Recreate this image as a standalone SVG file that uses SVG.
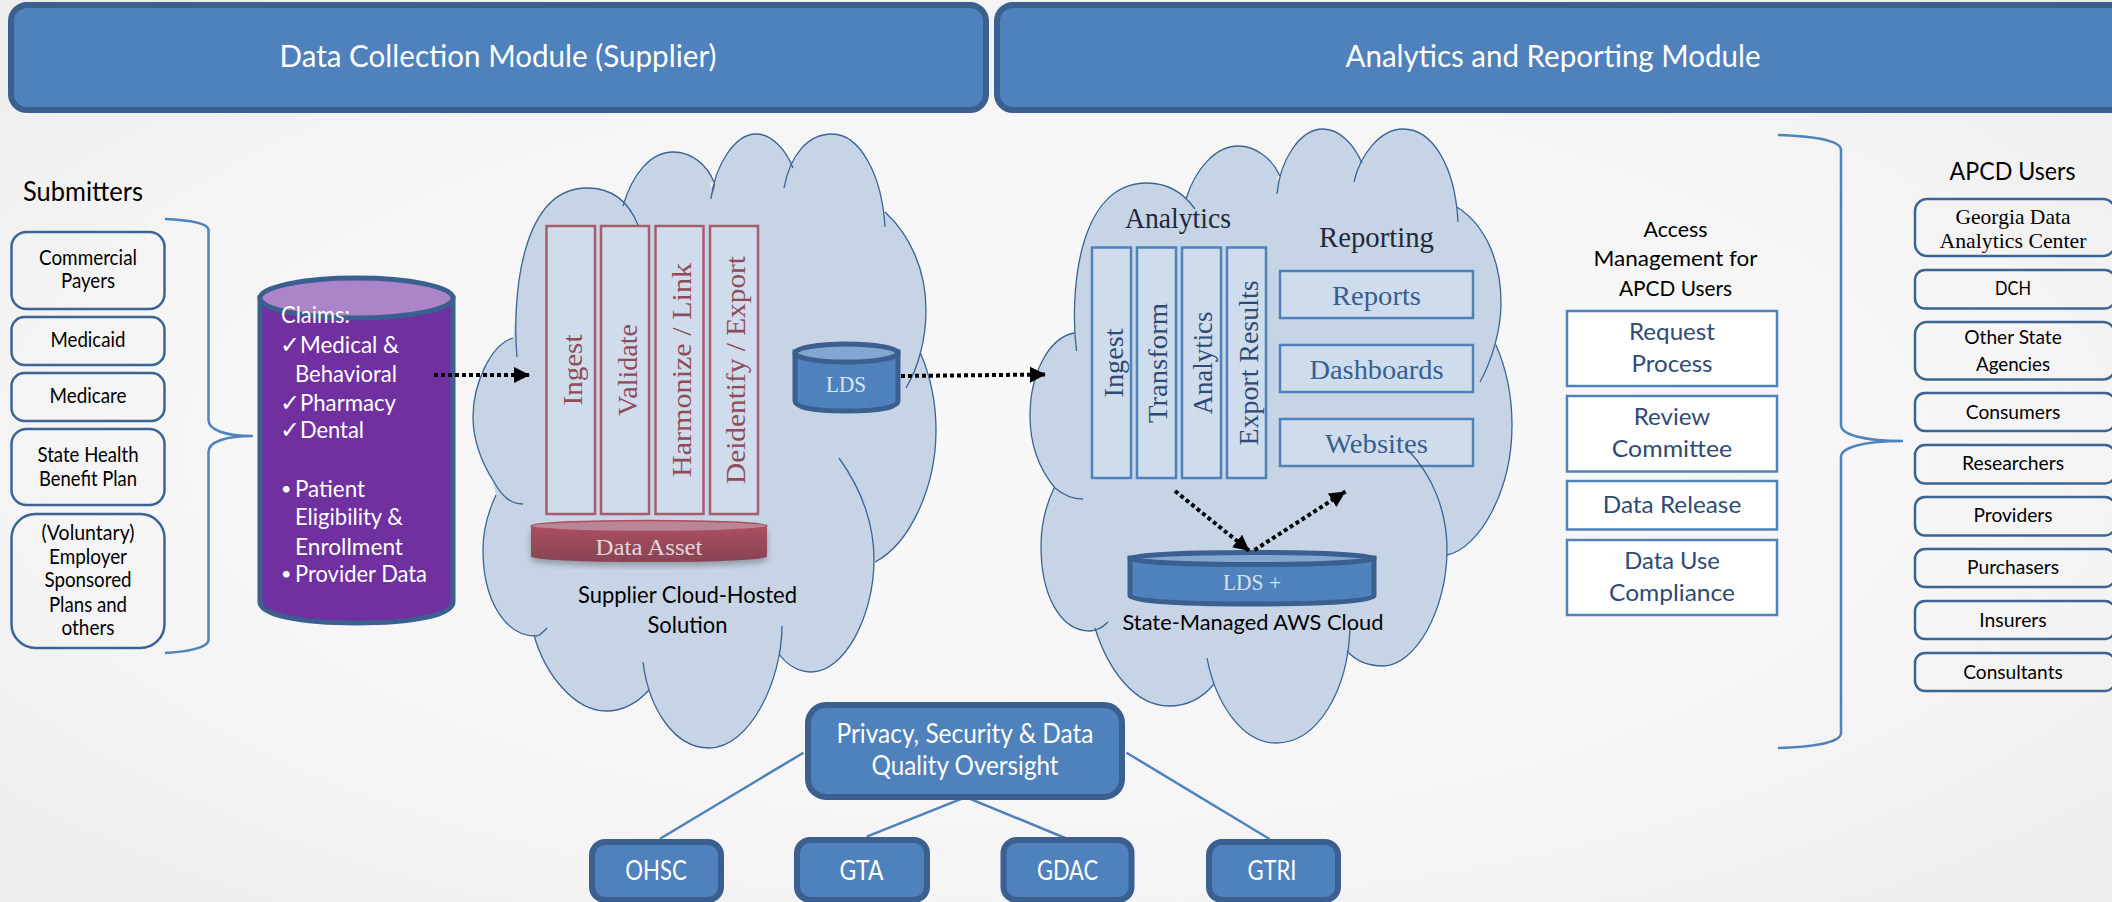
<svg xmlns="http://www.w3.org/2000/svg" width="2112" height="902" viewBox="0 0 2112 902">
<defs>
<radialGradient id="bg" cx="50%" cy="50%" r="75%"><stop offset="0" stop-color="#f8f8f8"/><stop offset="0.6" stop-color="#f5f5f5"/><stop offset="1" stop-color="#ebebeb"/></radialGradient>
<linearGradient id="red" x1="0" y1="0" x2="0" y2="1"><stop offset="0" stop-color="#ab4f60"/><stop offset="1" stop-color="#884356"/></linearGradient>
<filter id="sh" x="-5%" y="-10%" width="110%" height="130%"><feDropShadow dx="0" dy="4" stdDeviation="3" flood-color="#555" flood-opacity="0.45"/></filter>
<marker id="ah" markerUnits="userSpaceOnUse" markerWidth="18" markerHeight="18" refX="16" refY="8" orient="auto"><path d="M0 0L16 8L0 16Z" fill="#000"/></marker>
</defs>
<style>
text{font-family:Lato,"Open Sans","Liberation Sans",sans-serif;fill:#000}
.m{text-anchor:middle}
.serif{font-family:"Liberation Serif",serif}
.hdr{fill:#4f81bd;stroke:#3b5f8f;stroke-width:6}
.w{fill:#fff}
.sub{fill:none;stroke:#3a6496;stroke-width:2.5}
.t21{font-size:21px}
.t19{font-size:19.500px}
.brace{fill:none;stroke:#4f81bd;stroke-width:2.5}
.cf{fill:#c6d4e5;stroke:none}
.cs{fill:none;stroke:#3a6496;stroke-width:1.300}
.col1{fill:#cfdcec;stroke:#a85c6b;stroke-width:2.5}
.col2{fill:#cfdcec;stroke:#4f81bd;stroke-width:2.5}
.t1{fill:#8f4b58;font-size:27px}
.t2{fill:#2f4a75;font-size:27px}
.acc{fill:#fff;stroke:#4f81bd;stroke-width:2.5}
.tacc{fill:#2f4a75;font-size:24px}
.pw{fill:#fff;font-size:24px}
.ck{fill:#fff;font-size:24px}
.bu{fill:#fff;font-size:18px}
.dot{fill:none;stroke:#000;stroke-width:4;stroke-dasharray:4 3;marker-end:url(#ah)}
.ln{fill:none;stroke:#4f81bd;stroke-width:2.5}
</style>
<rect width="2112" height="902" fill="url(#bg)"/>

<g id="header-collection"><rect class="hdr" x="11" y="5" width="975" height="105" rx="16"/><text class="m w" x="498" y="67" font-size="31" textLength="437" lengthAdjust="spacingAndGlyphs">Data Collection Module (Supplier)</text></g>
<g id="header-analytics"><rect class="hdr" x="997" y="5" width="1130" height="105" rx="16"/><text class="m w" x="1553" y="67" font-size="31" textLength="415" lengthAdjust="spacingAndGlyphs">Analytics and Reporting Module</text></g>

<text x="23" y="201" font-size="26" textLength="120" lengthAdjust="spacingAndGlyphs">Submitters</text>
<g id="sub-commercial"><rect class="sub" x="11.500" y="232" width="153" height="77" rx="15"/><text class="m t21" x="88" y="265" textLength="98" lengthAdjust="spacingAndGlyphs">Commercial</text><text class="m t21" x="88" y="288" textLength="54" lengthAdjust="spacingAndGlyphs">Payers</text></g>
<g id="sub-medicaid"><rect class="sub" x="11.500" y="317" width="153" height="48" rx="13"/><text class="m t21" x="88" y="347" textLength="75" lengthAdjust="spacingAndGlyphs">Medicaid</text></g>
<g id="sub-medicare"><rect class="sub" x="11.500" y="373" width="153" height="48" rx="13"/><text class="m t21" x="88" y="403" textLength="77" lengthAdjust="spacingAndGlyphs">Medicare</text></g>
<g id="sub-state"><rect class="sub" x="11.500" y="429" width="153" height="76" rx="15"/><text class="m t21" x="88" y="462" textLength="101" lengthAdjust="spacingAndGlyphs">State Health</text><text class="m t21" x="88" y="486" textLength="98" lengthAdjust="spacingAndGlyphs">Benefit Plan</text></g>
<g id="sub-voluntary"><rect class="sub" x="11.500" y="514" width="153" height="134" rx="24"/><text class="m t21" x="88" y="540" textLength="93" lengthAdjust="spacingAndGlyphs">(Voluntary)</text><text class="m t21" x="88" y="564" textLength="78" lengthAdjust="spacingAndGlyphs">Employer</text><text class="m t21" x="88" y="587" textLength="87" lengthAdjust="spacingAndGlyphs">Sponsored</text><text class="m t21" x="88" y="612" textLength="78" lengthAdjust="spacingAndGlyphs">Plans and</text><text class="m t21" x="88" y="635" textLength="53" lengthAdjust="spacingAndGlyphs">others</text></g>
<path class="brace" id="brace-left" d="M165 219C185 220 208 222 208.500 230V420C208.500 430 225 436 253 436C225 436 208.500 442 208.500 452V640C208.500 648 185 652 165 653"/>

<g id="claims">
<path d="M260 298V602C260 615 300 623 356.500 623C413 623 453 615 453 602V298Z" fill="#7030a0" stroke="#3b5f8f" stroke-width="5"/>
<ellipse cx="356.500" cy="298" rx="96.500" ry="20" fill="#ab85c7" stroke="#3b5f8f" stroke-width="5"/>
<text class="pw" x="281" y="323" textLength="69" lengthAdjust="spacingAndGlyphs">Claims:</text>
<text class="ck" x="280" y="353">✓</text><text class="pw" x="300" y="353" textLength="99" lengthAdjust="spacingAndGlyphs">Medical &amp;</text>
<text class="pw" x="295" y="382" textLength="102" lengthAdjust="spacingAndGlyphs">Behavioral</text>
<text class="ck" x="280" y="411">✓</text><text class="pw" x="300" y="411" textLength="96" lengthAdjust="spacingAndGlyphs">Pharmacy</text>
<text class="ck" x="280" y="438">✓</text><text class="pw" x="300" y="438" textLength="64" lengthAdjust="spacingAndGlyphs">Dental</text>
<text class="bu" x="281" y="495">•</text><text class="pw" x="295" y="497" textLength="70" lengthAdjust="spacingAndGlyphs">Patient</text>
<text class="pw" x="295" y="525" textLength="108" lengthAdjust="spacingAndGlyphs">Eligibility &amp;</text>
<text class="pw" x="295" y="555" textLength="108" lengthAdjust="spacingAndGlyphs">Enrollment</text>
<text class="bu" x="281" y="580">•</text><text class="pw" x="295" y="582" textLength="132" lengthAdjust="spacingAndGlyphs">Provider Data</text>
</g>

<g id="cloud-supplier">
<path class="cf" d="M517 357C512 300 520 188 587 188C610 188 628 200 638 225ZM623 206C632 175 650 152 673 152C692 152 707 165 714 182ZM711 199C715 165 735 134 756 134C772 134 786 150 793 168ZM784 188C790 155 808 134 832 134C860 134 882 175 885 227ZM885 212C910 235 926 270 926 310C926 340 918 368 906 388ZM920 352C930 375 936 400 936 430C936 490 908 545 875 562ZM839 458C862 490 874 525 874 560C874 615 845 672 811 672C798 672 786 664 779 654ZM782 626C782 680 750 748 709 748C675 748 649 710 643 662ZM649 690C640 700 625 711 606 711C575 711 545 675 534 635ZM547 628C542 633 540 636 536 636C505 636 483 600 483 550C483 530 488 512 496 495ZM523 504C510 504 502 496 494 482C480 460 473 440 473 417C473 385 490 345 513 338Z"/>
<polygon class="cf" points="513,340 517,300 587,191 623,208 673,155 708,178 713,192 725,165 756,137 785,165 791,180 800,160 832,137 885,215 922,310 920,352 932,430 875,560 872,560 811,668 779,654 709,744 649,690 606,707 534,635 537,632 487,550 496,495 477,417"/>
<path class="cs" d="M517 357C512 300 520 188 587 188C610 188 628 200 638 225M623 206C632 175 650 152 673 152C692 152 707 165 714 182C716 188 711 190 711 199C715 165 735 134 756 134C772 134 786 150 793 168M784 188C790 155 808 134 832 134C860 134 882 175 885 227M885 212C910 235 926 270 926 310C926 340 918 368 906 388M920 352C930 375 936 400 936 430C936 490 908 545 875 562M839 458C862 490 874 525 874 560C874 615 845 672 811 672C798 672 786 664 779 654M782 626C782 680 750 748 709 748C675 748 649 710 643 662M649 690C640 700 625 711 606 711C575 711 545 675 534 635M547 628C542 633 540 636 536 636C505 636 483 600 483 550C483 530 488 512 496 495M523 504C510 504 502 496 494 482C480 460 473 440 473 417C473 385 490 345 513 338"/>
<text class="m" x="687.500" y="603" font-size="24" textLength="219" lengthAdjust="spacingAndGlyphs">Supplier Cloud-Hosted</text>
<text class="m" x="687.500" y="633" font-size="24" textLength="80" lengthAdjust="spacingAndGlyphs">Solution</text>
</g>
<g id="col-ingest"><rect class="col1" x="546.500" y="226" width="48.500" height="288"/><text class="m serif t1" transform="translate(581.500 370) rotate(-90)" textLength="71" lengthAdjust="spacingAndGlyphs">Ingest</text></g>
<g id="col-validate"><rect class="col1" x="601" y="226" width="48" height="288"/><text class="m serif t1" transform="translate(636.500 370) rotate(-90)" textLength="92" lengthAdjust="spacingAndGlyphs">Validate</text></g>
<g id="col-harmonize"><rect class="col1" x="655.500" y="226" width="48" height="288"/><text class="m serif t1" transform="translate(690.500 370) rotate(-90)" textLength="214" lengthAdjust="spacingAndGlyphs">Harmonize / Link</text></g>
<g id="col-deidentify"><rect class="col1" x="710" y="226" width="48" height="288"/><text class="m serif t1" transform="translate(745 370) rotate(-90)" textLength="228" lengthAdjust="spacingAndGlyphs">Deidentify / Export</text></g>
<g id="data-asset">
<path d="M531 526V556C531 560 580 562 649 562C718 562 767 560 767 556V526Z" fill="url(#red)" filter="url(#sh)"/>
<ellipse cx="649" cy="526" rx="118" ry="5.500" fill="#b88694" stroke="#ab4f60" stroke-width="1.500"/>
<text class="m serif" x="649" y="555" font-size="24" style="fill:#e5d5d8" textLength="107" lengthAdjust="spacingAndGlyphs">Data Asset</text>
</g>
<g id="lds">
<path d="M795 352V401C795 408 818 411 846.500 411C875 411 898 408 898 401V352Z" fill="#4f81bd" stroke="#3b5f8f" stroke-width="5"/>
<ellipse cx="846.500" cy="353" rx="51.500" ry="9" fill="#84a7d1" stroke="#3b5f8f" stroke-width="5"/>
<text class="m serif" x="846" y="392" font-size="23" style="fill:#dce6f2" textLength="40" lengthAdjust="spacingAndGlyphs">LDS</text>
</g>

<g id="cloud-state-fill">
<path class="cf" d="M1076.500 351C1070 300 1075 183 1147 183C1170 183 1185 195 1195 209ZM1186 199C1195 170 1215 146 1238 146C1255 146 1272 158 1280 176ZM1277 194C1280 160 1300 129 1323 129C1340 129 1354 145 1362 163ZM1354 182C1360 155 1380 129 1403 129C1432 129 1455 165 1458 222ZM1457 207C1485 225 1501 260 1501 303C1501 330 1492 360 1480 382ZM1496 345C1506 368 1512 395 1512 425C1512 490 1480 548 1447 555ZM1408 450C1432 475 1447 510 1447 550C1447 610 1415 666 1383 666C1368 666 1355 660 1347 651ZM1350 628C1348 690 1318 743 1276 743C1243 743 1216 705 1207 658ZM1214 684C1205 695 1190 706 1169 706C1135 706 1108 670 1095 628ZM1108 622C1103 627 1097 631 1090 631C1060 631 1041 595 1041 546C1041 525 1046 505 1054 488ZM1083 499C1070 499 1062 494 1055 488C1040 470 1030 445 1030 416C1030 375 1048 338 1074 333Z"/>
<polygon class="cf" points="1074,335 1078,300 1147,186 1187,201 1238,149 1272,165 1279,182 1290,160 1323,132 1350,150 1360,168 1372,150 1403,132 1455,207 1498,303 1496,345 1509,425 1447,553 1444,555 1383,663 1347,651 1276,740 1214,684 1169,703 1095,628 1090,628 1044,546 1054,488 1033,416"/>
</g>
<g id="cloud-state-labels">
<text class="serif" x="1125" y="228" font-size="29" style="fill:#1f2a3a" textLength="106" lengthAdjust="spacingAndGlyphs">Analytics</text>
<text class="serif" x="1319" y="247" font-size="29" style="fill:#1f2a3a" textLength="115" lengthAdjust="spacingAndGlyphs">Reporting</text>
</g>
<g id="col2-ingest"><rect class="col2" x="1092" y="247.500" width="39" height="230.500"/><text class="m serif t2" transform="translate(1122.500 363) rotate(-90)" textLength="69" lengthAdjust="spacingAndGlyphs">Ingest</text></g>
<g id="col2-transform"><rect class="col2" x="1137" y="247.500" width="39" height="230.500"/><text class="m serif t2" transform="translate(1167 363) rotate(-90)" textLength="120" lengthAdjust="spacingAndGlyphs">Transform</text></g>
<g id="col2-analytics"><rect class="col2" x="1182" y="247.500" width="39" height="230.500"/><text class="m serif t2" transform="translate(1212 363) rotate(-90)" textLength="103" lengthAdjust="spacingAndGlyphs">Analytics</text></g>
<g id="col2-export"><rect class="col2" x="1227" y="247.500" width="39" height="230.500"/><text class="m serif t2" transform="translate(1257.500 363) rotate(-90)" textLength="165" lengthAdjust="spacingAndGlyphs">Export Results</text></g>
<g id="rep-reports"><rect class="col2" x="1280" y="271" width="193" height="47"/><text class="m serif t2" x="1376.500" y="305" style="fill:#365f91" textLength="89" lengthAdjust="spacingAndGlyphs">Reports</text></g>
<g id="rep-dashboards"><rect class="col2" x="1280" y="345" width="193" height="47"/><text class="m serif t2" x="1376.500" y="379" style="fill:#365f91" textLength="134" lengthAdjust="spacingAndGlyphs">Dashboards</text></g>
<g id="rep-websites"><rect class="col2" x="1280" y="419" width="193" height="47"/><text class="m serif t2" x="1376.500" y="453" style="fill:#365f91" textLength="103" lengthAdjust="spacingAndGlyphs">Websites</text></g>
<g id="cloud-state-outline">
<path class="cs" d="M1076.500 351C1070 300 1075 183 1147 183C1170 183 1185 195 1195 209M1186 199C1195 170 1215 146 1238 146C1255 146 1272 158 1280 176M1277 194C1280 160 1300 129 1323 129C1340 129 1354 145 1362 163M1354 182C1360 155 1380 129 1403 129C1432 129 1455 165 1458 222M1457 207C1485 225 1501 260 1501 303C1501 330 1492 360 1480 382M1496 345C1506 368 1512 395 1512 425C1512 490 1480 548 1447 555M1408 450C1432 475 1447 510 1447 550C1447 610 1415 666 1383 666C1368 666 1355 660 1347 651M1350 628C1348 690 1318 743 1276 743C1243 743 1216 705 1207 658M1214 684C1205 695 1190 706 1169 706C1135 706 1108 670 1095 628M1108 622C1103 627 1097 631 1090 631C1060 631 1041 595 1041 546C1041 525 1046 505 1054 488M1083 499C1070 499 1062 494 1055 488C1040 470 1030 445 1030 416C1030 375 1048 338 1074 333"/>
</g>
<g id="lds-plus">
<path d="M1130 558V596C1130 601 1185 604 1252 604C1319 604 1374 601 1374 596V558Z" fill="#4f81bd" stroke="#3b5f8f" stroke-width="5"/>
<ellipse cx="1252" cy="558.500" rx="122" ry="6" fill="#84a7d1" stroke="#3b5f8f" stroke-width="5"/>
<text class="m serif" x="1252" y="590" font-size="23" style="fill:#d6e2f0" textLength="58" lengthAdjust="spacingAndGlyphs">LDS +</text>
</g>
<text class="m" x="1253" y="630" font-size="22" textLength="261" lengthAdjust="spacingAndGlyphs">State-Managed AWS Cloud</text>

<g id="connectors">
<path class="dot" d="M434 375H530"/>
<path class="dot" d="M901 376L1046 374.500"/>
<path class="dot" d="M1175 491L1249.500 551"/>
<path class="dot" d="M1254.500 550L1345.500 491.500"/>
<path class="ln" d="M803.500 752.700L660 838.700"/>
<path class="ln" d="M1126.500 752.700L1269.500 839"/>
<path class="ln" d="M866.700 836.700L965.800 797L1067.600 839"/>
</g>

<text class="m" x="1675.500" y="237" font-size="22" textLength="64" lengthAdjust="spacingAndGlyphs">Access</text>
<text class="m" x="1675.500" y="266" font-size="22" textLength="164" lengthAdjust="spacingAndGlyphs">Management for</text>
<text class="m" x="1675.500" y="296" font-size="22" textLength="113" lengthAdjust="spacingAndGlyphs">APCD Users</text>
<g id="acc-request"><rect class="acc" x="1567" y="311" width="210" height="75"/><text class="m tacc" x="1672" y="340" textLength="86" lengthAdjust="spacingAndGlyphs">Request</text><text class="m tacc" x="1672" y="372" textLength="81" lengthAdjust="spacingAndGlyphs">Process</text></g>
<g id="acc-review"><rect class="acc" x="1567" y="396" width="210" height="75.500"/><text class="m tacc" x="1672" y="425" textLength="76.500" lengthAdjust="spacingAndGlyphs">Review</text><text class="m tacc" x="1672" y="457" textLength="120.500" lengthAdjust="spacingAndGlyphs">Committee</text></g>
<g id="acc-release"><rect class="acc" x="1567" y="481" width="210" height="48.500"/><text class="m tacc" x="1672" y="513" textLength="138.500" lengthAdjust="spacingAndGlyphs">Data Release</text></g>
<g id="acc-compliance"><rect class="acc" x="1567" y="540" width="210" height="75"/><text class="m tacc" x="1672" y="569" textLength="95.500" lengthAdjust="spacingAndGlyphs">Data Use</text><text class="m tacc" x="1672" y="601" textLength="126" lengthAdjust="spacingAndGlyphs">Compliance</text></g>
<path class="brace" id="brace-right" d="M1778 135C1810 136 1841 140 1841 150V425C1841 435 1865 441 1903 441C1865 441 1841 447 1841 457V733C1841 743 1810 747 1778 748"/>

<text class="m" x="2012.500" y="180" font-size="25" textLength="126" lengthAdjust="spacingAndGlyphs">APCD Users</text>
<g id="user-gdac"><rect class="sub" x="1915" y="199" width="200" height="57" rx="12"/><text class="m serif" x="2013" y="224" font-size="21" textLength="115" lengthAdjust="spacingAndGlyphs">Georgia Data</text><text class="m serif" x="2013" y="248" font-size="21" textLength="147" lengthAdjust="spacingAndGlyphs">Analytics Center</text></g>
<g id="user-dch"><rect class="sub" x="1915" y="270" width="200" height="38.500" rx="10"/><text class="m t19" x="2013" y="295" textLength="36" lengthAdjust="spacingAndGlyphs">DCH</text></g>
<g id="user-other"><rect class="sub" x="1915" y="322" width="200" height="57.500" rx="12"/><text class="m t19" x="2013" y="344" textLength="97.500" lengthAdjust="spacingAndGlyphs">Other State</text><text class="m t19" x="2013" y="371" textLength="74" lengthAdjust="spacingAndGlyphs">Agencies</text></g>
<g id="user-consumers"><rect class="sub" x="1915" y="393" width="200" height="38" rx="10"/><text class="m t19" x="2013" y="418.500" textLength="94.500" lengthAdjust="spacingAndGlyphs">Consumers</text></g>
<g id="user-researchers"><rect class="sub" x="1915" y="445" width="200" height="38.500" rx="10"/><text class="m t19" x="2013" y="470" textLength="102" lengthAdjust="spacingAndGlyphs">Researchers</text></g>
<g id="user-providers"><rect class="sub" x="1915" y="497" width="200" height="38.500" rx="10"/><text class="m t19" x="2013" y="522" textLength="79" lengthAdjust="spacingAndGlyphs">Providers</text></g>
<g id="user-purchasers"><rect class="sub" x="1915" y="549" width="200" height="38" rx="10"/><text class="m t19" x="2013" y="574" textLength="92" lengthAdjust="spacingAndGlyphs">Purchasers</text></g>
<g id="user-insurers"><rect class="sub" x="1915" y="601" width="200" height="38" rx="10"/><text class="m t19" x="2013" y="626.500" textLength="67.500" lengthAdjust="spacingAndGlyphs">Insurers</text></g>
<g id="user-consultants"><rect class="sub" x="1915" y="653" width="200" height="38" rx="10"/><text class="m t19" x="2013" y="678.500" textLength="99.500" lengthAdjust="spacingAndGlyphs">Consultants</text></g>

<g id="privacy"><rect class="hdr" x="808" y="705" width="314" height="92" rx="18"/><text class="m w" x="965" y="743" font-size="26" textLength="257" lengthAdjust="spacingAndGlyphs">Privacy, Security &amp; Data</text><text class="m w" x="965" y="775" font-size="26" textLength="187" lengthAdjust="spacingAndGlyphs">Quality Oversight</text></g>
<g id="ohsc"><rect class="hdr" x="592" y="842" width="129" height="58" rx="13"/><text class="m w" x="656" y="880" font-size="26" textLength="61.500" lengthAdjust="spacingAndGlyphs">OHSC</text></g>
<g id="gta"><rect class="hdr" x="797" y="840" width="130" height="60" rx="13"/><text class="m w" x="861.500" y="880" font-size="26" textLength="44" lengthAdjust="spacingAndGlyphs">GTA</text></g>
<g id="gdac"><rect class="hdr" x="1003.500" y="840" width="128" height="60" rx="13"/><text class="m w" x="1067.500" y="880" font-size="26" textLength="61" lengthAdjust="spacingAndGlyphs">GDAC</text></g>
<g id="gtri"><rect class="hdr" x="1209" y="842" width="129" height="58" rx="13"/><text class="m w" x="1272" y="880" font-size="26" textLength="49" lengthAdjust="spacingAndGlyphs">GTRI</text></g>
</svg>
